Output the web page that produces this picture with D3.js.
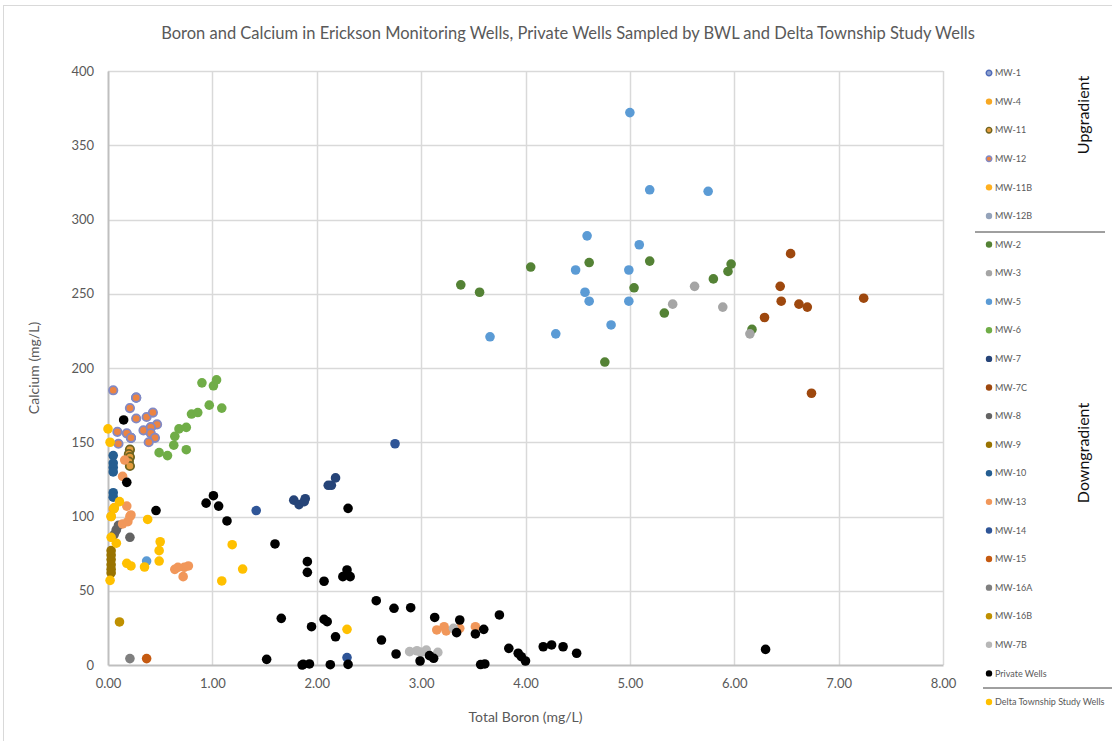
<!DOCTYPE html>
<html>
<head>
<meta charset="utf-8">
<script src="https://cdn.jsdelivr.net/npm/d3@7"></script>
<style>
  body { margin: 0; background: #fff; }
  text { font-family: Lato, "Open Sans", sans-serif; }
</style>
</head>
<body>
<svg id="chart" width="1112" height="741"></svg>
<script>
// values: [total boron mg/L, calcium mg/L]
var mw1 = [[0.27, 180], [0.41, 160], [0.22, 153]];
var mw4 = [[0.05, 105], [0.03, 100]];
var mw11 = [[0.21, 145], [0.20, 142], [0.21, 140], [0.20, 137], [0.21, 134]];
var mw12 = [[0.05, 185], [0.27, 180], [0.21, 173], [0.37, 167], [0.43, 170], [0.27, 166],
  [0.47, 162], [0.34, 158], [0.41, 160], [0.41, 156], [0.45, 153], [0.39, 150],
  [0.18, 156], [0.22, 153], [0.09, 157], [0.10, 149]];
var mw11b = [[0.06, 106], [0.04, 86]];
var mw12b = [[0.08, 91]];
var mw2 = [[3.38, 256], [3.56, 251], [4.05, 268], [4.61, 271], [5.19, 272], [5.04, 254],
  [5.33, 237], [4.76, 204], [5.80, 260], [5.94, 265], [5.97, 270], [6.17, 226]];
var mw3 = [[5.41, 243], [5.62, 255], [5.89, 241], [6.15, 223]];
var mw5 = [[5.00, 372], [5.19, 320], [5.75, 319], [4.59, 289], [5.09, 283], [4.48, 266],
  [4.99, 266], [4.57, 251], [4.61, 245], [4.99, 245], [4.82, 229], [4.29, 223], [3.66, 221],
  [0.37, 70]];
var mw6 = [[0.90, 190], [1.01, 188], [1.04, 192], [0.97, 175], [1.09, 173], [0.80, 169],
  [0.86, 170], [0.68, 159], [0.75, 160], [0.64, 154], [0.63, 148], [0.75, 145],
  [0.49, 143], [0.57, 141]];
var mw7 = [[1.78, 111], [1.83, 108], [1.89, 112], [1.88, 110], [2.11, 121], [2.14, 121], [2.18, 126]];
var mw7c = [[6.54, 277], [6.44, 255], [6.45, 245], [6.62, 243], [6.70, 241], [6.29, 234],
  [7.24, 247], [6.74, 183]];
var mw8 = [[0.08, 91], [0.10, 94], [0.06, 88], [0.21, 86]];
var mw9 = [[0.03, 77], [0.03, 74], [0.03, 71], [0.03, 67.5], [0.03, 64.5], [0.03, 62]];
var mw10 = [[0.05, 141], [0.05, 136], [0.05, 133], [0.05, 130], [0.05, 116], [0.05, 113]];
var mw13 = [[0.16, 138], [0.14, 127], [0.18, 107], [0.22, 101], [0.14, 95], [0.19, 96.5],
  [0.21, 100], [0.64, 64.4], [0.73, 65.8], [0.77, 66.7], [0.67, 65.8], [0.72, 59.5],
  [3.15, 23.6], [3.22, 25.8], [3.24, 23], [3.37, 24.7], [3.52, 25.8]];
var mw14 = [[1.42, 104], [2.75, 149], [2.29, 5]];
var mw15 = [[0.37, 4.3]];
var mw16a = [[0.21, 4.3]];
var mw16b = [[0.11, 29]];
var mw7b = [[2.89, 9], [2.96, 9.6], [3.05, 10], [3.16, 8.5], [3.00, 8.5], [3.31, 24.7]];
var privateWells = [[0.15, 165], [0.18, 123], [0.46, 104], [1.01, 114], [0.94, 109], [1.06, 107],
  [1.14, 97], [1.60, 81.5], [1.66, 31.4], [1.52, 3.8], [1.86, 0], [2.30, 105.5], [1.91, 69.6],
  [1.91, 62.4], [2.07, 56.4], [2.29, 64], [2.25, 59.5], [2.32, 59.5], [2.57, 43.3], [2.74, 38.2],
  [2.90, 38.6], [1.95, 25.8], [2.07, 30.7], [2.10, 29.2], [2.18, 19], [2.62, 16.8], [2.76, 7.4],
  [2.99, 2.7], [3.08, 6.3], [3.12, 4.5], [3.13, 32], [3.37, 30.3], [3.34, 21.8], [3.52, 20.9],
  [3.60, 24], [3.75, 33.7], [3.84, 11.2], [3.93, 7.9], [4.00, 2.7], [3.96, 5.6], [3.57, 0.3],
  [3.61, 0.7], [1.87, 0.4], [1.93, 0.7], [2.13, 0.2], [2.30, 0.4], [4.17, 12.3], [4.25, 13.5],
  [4.36, 12.3], [4.49, 7.9], [6.30, 10.5]];
var deltaWells = [[0.00, 159], [0.02, 150], [0.03, 100], [0.03, 86], [0.08, 82], [0.11, 110],
  [0.06, 105.5], [0.38, 98], [0.50, 83], [0.49, 77], [0.49, 70], [0.18, 68.5], [0.22, 66.7],
  [0.35, 66], [0.02, 57], [1.19, 81], [1.09, 56.6], [1.29, 64.6], [2.29, 24]];

var xTicks = [0, 1, 2, 3, 4, 5, 6, 7, 8];
var yTicks = [0, 50, 100, 150, 200, 250, 300, 350, 400];

var title = "Boron and Calcium in Erickson Monitoring Wells, Private Wells Sampled by BWL and Delta Township Study Wells";

// series, in legend order (later ones drawn on top)
var series = [
  {name: "MW-1", data: mw1, fill: "#8EA1CF", stroke: "#4F6BB8"},
  {name: "MW-4", data: mw4, fill: "#F7A823", stroke: "none"},
  {name: "MW-11", data: mw11, fill: "#E39B3C", stroke: "#6E6420"},
  {name: "MW-12", data: mw12, fill: "#EC8442", stroke: "#8289C4"},
  {name: "MW-11B", data: mw11b, fill: "#FFB020", stroke: "none"},
  {name: "MW-12B", data: mw12b, fill: "#94A3BA", stroke: "none"},
  {name: "MW-2", data: mw2, fill: "#548235", stroke: "none"},
  {name: "MW-3", data: mw3, fill: "#A5A5A5", stroke: "none"},
  {name: "MW-5", data: mw5, fill: "#5B9BD5", stroke: "none"},
  {name: "MW-6", data: mw6, fill: "#70AD47", stroke: "none"},
  {name: "MW-7", data: mw7, fill: "#264478", stroke: "none"},
  {name: "MW-7C", data: mw7c, fill: "#9E480E", stroke: "none"},
  {name: "MW-8", data: mw8, fill: "#636363", stroke: "none"},
  {name: "MW-9", data: mw9, fill: "#997300", stroke: "none"},
  {name: "MW-10", data: mw10, fill: "#255E91", stroke: "none"},
  {name: "MW-13", data: mw13, fill: "#F1975A", stroke: "none"},
  {name: "MW-14", data: mw14, fill: "#2F5597", stroke: "none"},
  {name: "MW-15", data: mw15, fill: "#C55A11", stroke: "none"},
  {name: "MW-16A", data: mw16a, fill: "#7F7F7F", stroke: "none"},
  {name: "MW-16B", data: mw16b, fill: "#BF9000", stroke: "none"},
  {name: "MW-7B", data: mw7b, fill: "#B7B7B7", stroke: "none"},
  {name: "Private Wells", data: privateWells, fill: "#000000", stroke: "none"},
  {name: "Delta Township Study Wells", data: deltaWells, fill: "#FFC000", stroke: "none"}
];

var svg = d3.select("#chart");
var plotLeft = 108, plotRight = 943, plotTop = 71, plotBottom = 665;

var x = d3.scaleLinear().domain([0, 8]).range([plotLeft, plotRight]);
var y = d3.scaleLinear().domain([0, 400]).range([plotBottom, plotTop]);

// outer border
svg.append("rect")
  .attr("x", 3.5).attr("y", 5.5).attr("width", 1120).attr("height", 740)
  .attr("fill", "none").attr("stroke", "#D9D9D9");

// gridlines
svg.append("g").selectAll("line").data(yTicks.slice(1)).enter().append("line")
  .attr("x1", plotLeft).attr("x2", plotRight)
  .attr("y1", function(d) { return Math.round(y(d)) + 0.5; })
  .attr("y2", function(d) { return Math.round(y(d)) + 0.5; })
  .attr("stroke", "#D9D9D9").attr("stroke-width", 1.5);
svg.append("g").selectAll("line").data(xTicks.slice(1)).enter().append("line")
  .attr("y1", plotTop).attr("y2", plotBottom)
  .attr("x1", function(d) { return Math.round(x(d)) + 0.5; })
  .attr("x2", function(d) { return Math.round(x(d)) + 0.5; })
  .attr("stroke", "#D9D9D9").attr("stroke-width", 1.5);

// axes
var xAxis = svg.append("g").attr("transform", "translate(0," + plotBottom + ")")
  .call(d3.axisBottom(x).tickValues(xTicks).tickFormat(d3.format(".2f")).tickSize(0).tickPadding(14));
var yAxis = svg.append("g").attr("transform", "translate(" + plotLeft + ",0)")
  .call(d3.axisLeft(y).tickValues(yTicks).tickSize(0).tickPadding(14));
[xAxis, yAxis].forEach(function(a) {
  a.select(".domain").attr("stroke", "#BFBFBF").attr("stroke-width", 2);
  a.selectAll("text").attr("fill", "#595959").style("font-size", "13px")
    .style("font-family", "Lato, sans-serif");
});

// points
series.forEach(function(s) {
  svg.append("g").selectAll("circle").data(s.data).enter().append("circle")
    .attr("cx", function(d) { return x(d[0]); })
    .attr("cy", function(d) { return y(d[1]); })
    .attr("r", s.stroke === "none" ? 4.8 : 4.2)
    .attr("fill", s.fill)
    .attr("stroke", s.stroke)
    .attr("stroke-width", s.stroke === "none" ? 0 : 1.8);
});

// title and axis titles
svg.append("text").attr("x", 568).attr("y", 39).attr("text-anchor", "middle")
  .attr("fill", "#595959").style("font-size", "16.5px").text(title);
svg.append("text").attr("x", (plotLeft + plotRight) / 2).attr("y", 722).attr("text-anchor", "middle")
  .attr("fill", "#595959").style("font-size", "14px").text("Total Boron (mg/L)");
svg.append("text").attr("transform", "translate(39," + (plotTop + plotBottom) / 2 + ") rotate(-90)")
  .attr("text-anchor", "middle").attr("fill", "#595959").style("font-size", "14px")
  .text("Calcium (mg/L)");

// legend
var legendY = d3.scalePoint().domain(series.map(function(s) { return s.name; }))
  .range([73, 702]);
var lg = svg.append("g").selectAll("g").data(series).enter().append("g")
  .attr("transform", function(s) {
    return "translate(989," + legendY(s.name) + ")";
  });
lg.append("circle").attr("r", function(s) { return s.stroke === "none" ? 3.2 : 2.8; })
  .attr("fill", function(s) { return s.fill; })
  .attr("stroke", function(s) { return s.stroke; })
  .attr("stroke-width", function(s) { return s.stroke === "none" ? 0 : 1.4; });
lg.append("text").attr("x", 6).attr("dy", "0.35em").attr("fill", "#595959")
  .style("font-size", "9px").text(function(s) { return s.name; });

// group separators
svg.append("line").attr("x1", 975).attr("x2", 1105).attr("y1", 232).attr("y2", 232)
  .attr("stroke", "#404040").attr("stroke-width", 1);
svg.append("line").attr("x1", 983).attr("x2", 1112).attr("y1", 688).attr("y2", 688)
  .attr("stroke", "#404040").attr("stroke-width", 1);

svg.append("text").attr("transform", "translate(1089,115) rotate(-90)")
  .attr("text-anchor", "middle").attr("fill", "#111").style("font-size", "16px")
  .text("Upgradient");
svg.append("text").attr("transform", "translate(1089,453) rotate(-90)")
  .attr("text-anchor", "middle").attr("fill", "#111").style("font-size", "16px")
  .text("Downgradient");
</script>
</body>
</html>
